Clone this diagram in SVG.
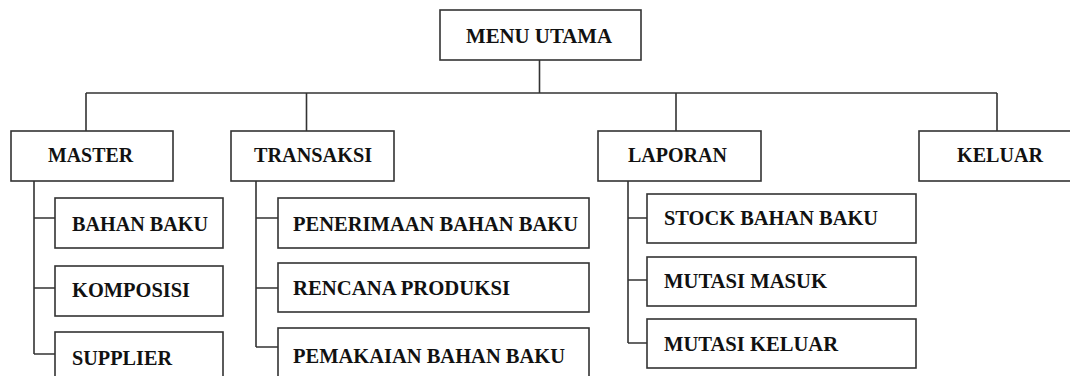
<svg xmlns="http://www.w3.org/2000/svg" width="1070" height="376" viewBox="0 0 1070 376">
<style>
.box{fill:#fff;stroke:#333;stroke-width:1.6}
.lbl{font-family:"Liberation Serif","Times New Roman",serif;font-weight:bold;font-size:20px;fill:#111}
.conn{fill:none;stroke:#333;stroke-width:1.6}
</style>
<rect width="1070" height="376" fill="#fff"/>
<g id="connectors" class="conn">
<path d="M539.5 60V93M86 93H997M86 93V131M306.5 93V131M676 93V131M997 93V131"/>
<path d="M34 181V354M34 218H55M34 288H55M34 354H55"/>
<path d="M256 181V347M256 218H278M256 288H278M256 347H278"/>
<path d="M628 181V343M628 218H647M628 280H647M628 343H647"/>
</g>
<g id="menu-utama"><rect class="box" x="440" y="10" width="201" height="50"/><text class="lbl" x="466" y="43" textLength="146" lengthAdjust="spacingAndGlyphs">MENU UTAMA</text></g>
<g id="master"><rect class="box" x="11" y="131" width="162" height="50"/><text class="lbl" x="48" y="162" textLength="85" lengthAdjust="spacingAndGlyphs">MASTER</text></g>
<g id="transaksi"><rect class="box" x="231" y="131" width="163" height="50"/><text class="lbl" x="254" y="162" textLength="118" lengthAdjust="spacingAndGlyphs">TRANSAKSI</text></g>
<g id="laporan"><rect class="box" x="598" y="131" width="163" height="50"/><text class="lbl" x="628" y="162" textLength="99" lengthAdjust="spacingAndGlyphs">LAPORAN</text></g>
<g id="keluar"><rect class="box" x="919" y="131" width="160" height="50"/><text class="lbl" x="957" y="162" textLength="86" lengthAdjust="spacingAndGlyphs">KELUAR</text></g>
<g id="bahan-baku"><rect class="box" x="55" y="198" width="168" height="50"/><text class="lbl" x="72" y="231" textLength="136" lengthAdjust="spacingAndGlyphs">BAHAN BAKU</text></g>
<g id="komposisi"><rect class="box" x="55" y="266" width="168" height="50"/><text class="lbl" x="72" y="297" textLength="118" lengthAdjust="spacingAndGlyphs">KOMPOSISI</text></g>
<g id="supplier"><rect class="box" x="55" y="332" width="168" height="60"/><text class="lbl" x="72" y="365" textLength="100" lengthAdjust="spacingAndGlyphs">SUPPLIER</text></g>
<g id="penerimaan"><rect class="box" x="278" y="198" width="311" height="50"/><text class="lbl" x="293" y="231" textLength="285" lengthAdjust="spacingAndGlyphs">PENERIMAAN BAHAN BAKU</text></g>
<g id="rencana"><rect class="box" x="278" y="263" width="311" height="49"/><text class="lbl" x="293" y="295" textLength="217" lengthAdjust="spacingAndGlyphs">RENCANA PRODUKSI</text></g>
<g id="pemakaian"><rect class="box" x="278" y="328" width="311" height="60"/><text class="lbl" x="293" y="363" textLength="272" lengthAdjust="spacingAndGlyphs">PEMAKAIAN BAHAN BAKU</text></g>
<g id="stock"><rect class="box" x="647" y="194" width="269" height="49"/><text class="lbl" x="664" y="225" textLength="214" lengthAdjust="spacingAndGlyphs">STOCK BAHAN BAKU</text></g>
<g id="mutasi-masuk"><rect class="box" x="647" y="257" width="269" height="49"/><text class="lbl" x="664" y="288" textLength="163" lengthAdjust="spacingAndGlyphs">MUTASI MASUK</text></g>
<g id="mutasi-keluar"><rect class="box" x="647" y="319" width="269" height="49"/><text class="lbl" x="664" y="351" textLength="174" lengthAdjust="spacingAndGlyphs">MUTASI KELUAR</text></g>
</svg>
